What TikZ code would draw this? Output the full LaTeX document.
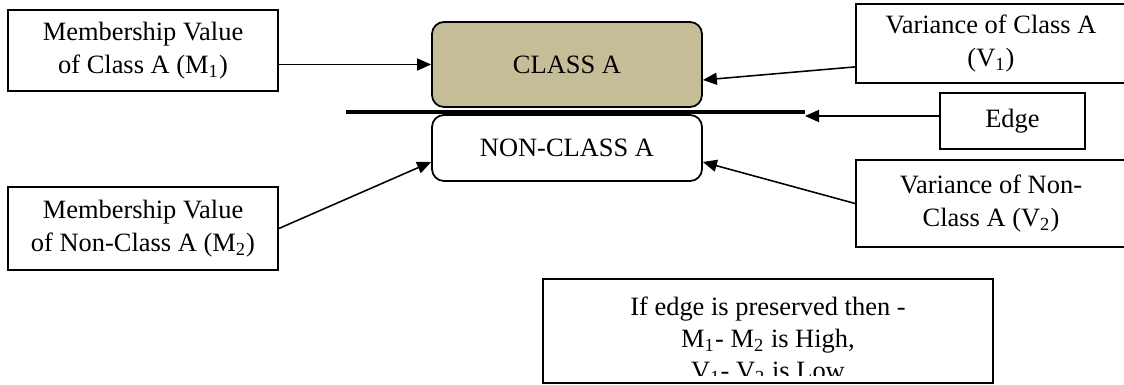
\documentclass[tikz,border=0pt]{standalone}
\usepackage{fontspec}
\setmainfont{Liberation Serif}
\usetikzlibrary{arrows.meta,calc}
\definecolor{tanfill}{HTML}{C4BD97}
\begin{document}
\begin{tikzpicture}[x=0.45pt,y=-0.45pt,
  box/.style={draw, line width=0.8pt, inner sep=0pt, align=center,
    font=\fontsize{11.9}{14.8}\selectfont},
  txt/.style={inner sep=0pt, font=\fontsize{11.9}{14.8}\selectfont},
  arr/.style={-{Triangle[length=6.3pt,width=5.4pt]}, line width=0.7pt}]
\clip (0,0) rectangle (1124,385);
% boxes
\node[box, minimum width=121.5pt, minimum height=36.45pt] (m1) at (143,50.5)
  {Membership Value\\of Class A (M\textsubscript{1})};
\node[box, fill=tanfill, rounded corners=5.4pt, minimum width=121.5pt, minimum height=38.25pt] (cla) at (567,64.5)
  {CLASS A};
\node[box, rounded corners=5.4pt, minimum width=121.5pt, minimum height=29.7pt] (ncla) at (567,148)
  {NON-CLASS A};
\node[box, minimum width=121.5pt, minimum height=35.55pt] (v1) at (991,43.5)
  {Variance of Class A\\(V\textsubscript{1})};
\node[box, minimum width=65.25pt, minimum height=25.2pt] (edge) at (1012.5,121)
  {Edge};
\node[box, minimum width=121.5pt, minimum height=39.15pt] (v2) at (991,203.5)
  {Variance of Non-\\Class A (V\textsubscript{2})};
\node[box, minimum width=121.5pt, minimum height=37.35pt] (m2) at (143,228.5)
  {Membership Value\\of Non-Class A (M\textsubscript{2})};
\node[box, minimum width=202.5pt, minimum height=46.8pt] (cond) at (768,331) {};
\begin{scope}
  \clip (545,281) rectangle (991,376);
  \node[txt, anchor=base] (c1) at (768,316) {If edge is preserved then -};
  \node[txt, anchor=base] (c2) at (768,348) {M\textsubscript{1}- M\textsubscript{2} is High,};
  \node[txt, anchor=base] (c3) at (768,380) {V\textsubscript{1}- V\textsubscript{2} is Low};
\end{scope}
% edge line
\coordinate (lineL) at (346,112);
\coordinate (lineR) at (805,112);
\draw[line width=1.8pt] (lineL) -- (lineR);
% arrows
\draw[arr] (m1.east |- cla.west) -- (cla.west);
\draw[arr] ($(v1.south west)+(0,-17)$) -- ($(cla.east)+(0,15.5)$);
\coordinate (eTip) at (805,116);
\draw[arr] (edge.west |- eTip) -- (eTip);
\draw[arr] (v2.west) -- ($(ncla.east)+(0,14)$);
\draw[arr] (m2.east) -- ($(ncla.west)+(0,14)$);
\end{tikzpicture}
\end{document}
